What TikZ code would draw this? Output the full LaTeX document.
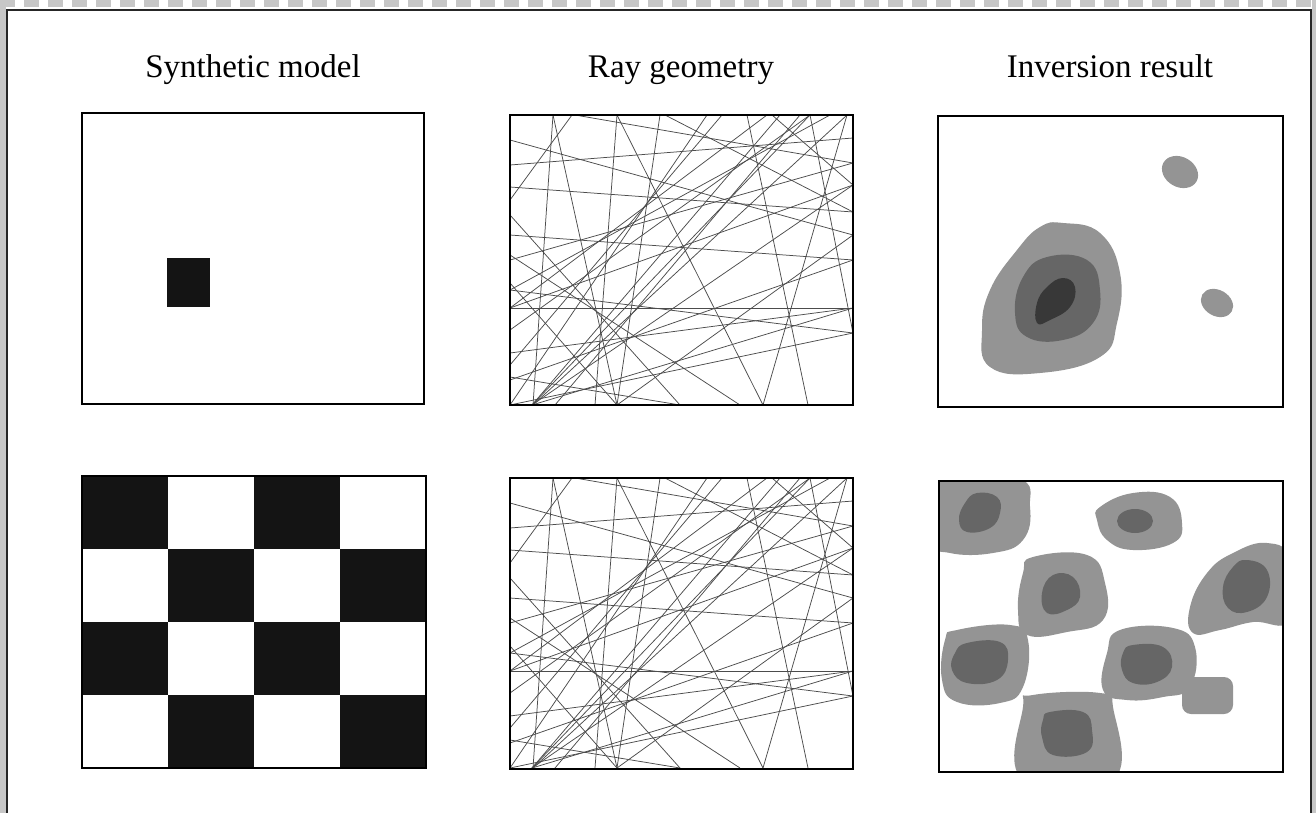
\documentclass[tikz,border=0pt]{standalone}
\usepackage{fontspec}
\setmainfont{Liberation Serif}
\tikzset{
  panel/.style={draw=black, line width=1.6pt},
  ray/.style={draw=black!70, line width=0.75pt},
  title/.style={anchor=base, inner sep=0pt, font=\fontsize{33}{38}\selectfont},
  lite/.style={fill=black!42},
  mid/.style={fill=black!60},
  dark/.style={fill=black!78},
  blobfill/.style={smooth cycle, tension=0.75},
}
\newcommand{\myrays}{%
  \foreach \a/\b/\c/\d in {
    0/25/343/120, 65/0/343/48, 0/72/343/97, 0/120/343/145, 0/145/343/48,
    0/193/343/193, 0/215/300/0, 0/238/343/193, 0/262/170/290, 0/168/107/290,
    0/85/62/0, 43/0/107/290, 43/0/23/290, 107/0/85/290, 150/0/107/290,
    107/0/253/290, 237/0/298/290, 300/0/22/290, 270/0/22/290, 212/0/0/250,
    290/0/45/290, 320/0/0/175, 22/290/343/193, 22/290/343/70, 0/175/343/218,
    155/0/343/97, 0/100/170/290, 262/0/343/70, 23/290/337/0, 0/265/343/145,
    197/0/0/290, 0/50/343/23, 0/290/343/218, 337/0/253/290, 0/193/257/0,
    0/193/343/70, 107/290/343/120, 0/140/230/290, 300/0/343/218}
  {\draw[ray] (\a,\b) -- (\c,\d);}%
}
\begin{document}
\begin{tikzpicture}[x=1pt,y=-1pt]
\useasboundingbox (0,0) rectangle (1316,813);
\fill[white] (0,0) rectangle (1316,813);
% scan border
\fill[black!22] (0,0) rectangle (6,813);
\fill[black!22] (1312,0) rectangle (1316,813);
\draw[black!22, line width=7pt, dash pattern=on 15pt off 9pt] (0,3.5) -- (1316,3.5);
\draw[black!85, line width=1.1pt] (7,830) -- (7,10) -- (1311,10) -- (1311,830);

% titles
\node[title] (t1) at (253,78) {Synthetic model};
\node[title] (t2) at (681,78) {Ray geometry};
\node[title] (t3) at (1110,78) {Inversion result};

% ---- synthetic model, top
\fill[black!92] (167,258) rectangle (210,307);
\draw[panel] (82,113) rectangle (424,404);

% ---- synthetic model, bottom (checkerboard)
\begin{scope}[shift={(82,476)}]
  \foreach \i in {0,...,3}{
    \foreach \j in {0,...,3}{
      \pgfmathtruncatemacro{\myparity}{mod(\i+\j,2)}
      \ifnum\myparity=0
        \fill[black!92] (\i*86,\j*73) rectangle ({(\i+1)*86},{(\j+1)*73});
      \fi
    }
  }
\end{scope}
\draw[panel] (82,476) rectangle (426,768);

% ---- ray geometry, top and bottom
\begin{scope}
  \clip (510,115) rectangle (853,405);
  \begin{scope}[shift={(510,115)}]\myrays\end{scope}
\end{scope}
\draw[panel] (510,115) rectangle (853,405);
\begin{scope}
  \clip (510,478) rectangle (853,769);
  \begin{scope}[shift={(510,478)}]\myrays\end{scope}
\end{scope}
\draw[panel] (510,478) rectangle (853,769);

% ---- inversion result, top
\begin{scope}
  \clip (938,116) rectangle (1283,407);
  \fill[lite] plot[blobfill] coordinates {(1063,223) (1100,233) (1120,273) (1117,323) (1100,357) (1040,373) (990,367) (982,330) (990,290) (1017,250) (1040,227)};
  \fill[mid] plot[blobfill] coordinates {(1047,257) (1087,260) (1100,290) (1093,323) (1063,340) (1027,337) (1015,313) (1023,277)};
  \fill[dark] plot[blobfill] coordinates {(1063,278) (1075,287) (1070,307) (1050,320) (1037,323) (1037,303) (1047,287)};
  \fill[lite, rotate around={-30:(1180,172)}] (1180,172) ellipse [x radius=19, y radius=15];
  \fill[lite, rotate around={-30:(1217,303)}] (1217,303) ellipse [x radius=17, y radius=13];
\end{scope}
\draw[panel] (938,116) rectangle (1283,407);

% ---- inversion result, bottom
\begin{scope}
  \clip (939,481) rectangle (1283,772);
  % A
  \fill[lite] plot[blobfill] coordinates {(935,478) (1017,478) (1030,507) (1023,540) (993,553) (950,553) (935,540)};
  \fill[mid] plot[blobfill] coordinates {(977,493) (997,497) (1000,513) (990,528) (967,532) (959,520) (965,503)};
  % B
  \fill[lite] plot[blobfill] coordinates {(1100,507) (1133,493) (1170,497) (1182,523) (1173,543) (1133,550) (1107,540) (1097,520)};
  \fill[mid] (1135,521) ellipse [x radius=18, y radius=12];
  % C
  \fill[lite] plot[blobfill] coordinates {(1033,557) (1087,555) (1105,583) (1103,620) (1067,632) (1027,635) (1018,610) (1023,573)};
  \fill[mid] plot[blobfill] coordinates {(1053,575) (1073,577) (1080,597) (1067,610) (1047,613) (1042,593)};
  % D
  \fill[lite] plot[blobfill] coordinates {(1233,553) (1267,543) (1290,560) (1290,620) (1253,622) (1220,630) (1193,633) (1190,607) (1207,573)};
  \fill[mid] plot[blobfill] coordinates {(1247,560) (1267,570) (1267,597) (1247,612) (1228,608) (1223,587) (1233,567)};
  % E
  \fill[lite] plot[blobfill] coordinates {(957,630) (1010,625) (1028,640) (1023,687) (1000,703) (957,702) (942,680) (945,640)};
  \fill[mid] plot[blobfill] coordinates {(967,643) (1000,642) (1008,660) (997,680) (967,683) (952,670) (955,653)};
  % F
  \fill[lite] plot[blobfill] coordinates {(1120,630) (1173,628) (1195,647) (1190,687) (1163,697) (1127,700) (1103,690) (1107,653)};
  \fill[mid] plot[blobfill] coordinates {(1133,645) (1163,647) (1172,667) (1157,682) (1133,683) (1122,670) (1123,653)};
  % G
  \fill[lite, rounded corners=9pt] (1182,677) rectangle (1233,714);
  % H
  \fill[lite] plot[blobfill] coordinates {(1033,695) (1100,693) (1113,707) (1113,780) (1023,780) (1023,707)};
  \fill[mid] plot[blobfill] coordinates {(1050,712) (1083,712) (1092,730) (1087,752) (1053,755) (1042,737) (1043,720)};
\end{scope}
\draw[panel] (939,481) rectangle (1283,772);
\end{tikzpicture}
\end{document}
